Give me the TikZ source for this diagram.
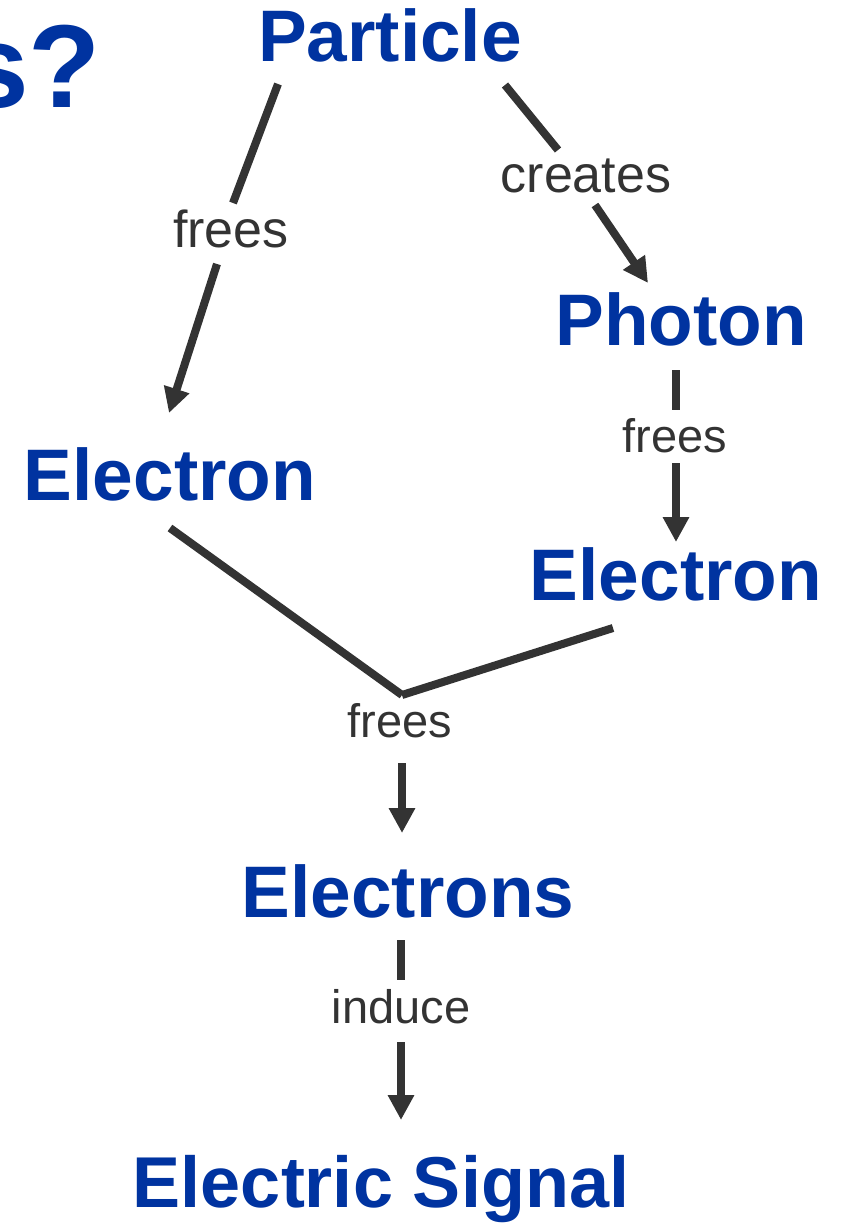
\documentclass[tikz,border=0pt]{standalone}
\usepackage{fontspec}
\setmainfont{Liberation Sans}
\usetikzlibrary{arrows.meta,calc}
\definecolor{termblue}{HTML}{0033A0}
\definecolor{linkgray}{HTML}{333333}
\begin{document}
\begin{tikzpicture}[x=1pt,y=-1pt,
  term/.style={anchor=base,inner sep=0pt,text=termblue,font=\fontsize{73}{80}\selectfont\bfseries},
  verb/.style={anchor=base,inner sep=0pt,text=linkgray,font=\fontsize{47}{54}\selectfont},
  bigverb/.style={verb,font=\fontsize{52}{60}\selectfont},
  link/.style={draw=linkgray,line width=8pt},
  arrowlink/.style={link,-{Triangle[length=25pt,width=25pt]}}]
\useasboundingbox (0,0) rectangle (846,1225);

% heading fragment running in from the left edge
\node[anchor=base east,inner sep=0pt,text=termblue,font=\fontsize{118}{130}\selectfont\bfseries] (title) at (101,108) {s?};

% terms
\node[term] (particle)  at (390,62)   {Particle};
\node[term] (photon)    at (681,345)  {Photon};
\node[term] (electronL) at (170,500)  {Electron};
\node[term] (electronR) at (676,600)  {Electron};
\node[term] (electrons) at (408,917)  {Electrons};
\node[term,font=\fontsize{72}{80}\selectfont\bfseries] (signal) at (381,1207) {Electric Signal};

% relation labels
\node[bigverb] (freesL)  at (231,247)  {frees};
\node[bigverb] (creates) at (586,193)  {creates};
\node[verb]    (freesR)  at (675,452)  {frees};
\node[verb]    (freesM)  at (400,737)  {frees};
\node[verb]    (induce)  at (401,1023) {induce};

\coordinate (join) at (402,695);

% particle frees electron
\draw[link] ($(particle.base)+(-112,22)$) -- ($(freesL.base)+(2,-44)$);
\draw[arrowlink] ($(freesL.base)+(-14,17)$) -- ($(electronL.base)+(-1,-87)$);

% particle creates photon
\draw[link] ($(particle.base)+(115,23)$) -- ($(creates.base)+(-28,-43)$);
\draw[arrowlink] ($(creates.base)+(9,12)$) -- ($(photon.base)+(-33,-62)$);

% photon frees electron
\draw[link] ($(photon.base)+(-5,25)$) -- ($(freesR.base)+(1,-42)$);
\draw[arrowlink] ($(freesR.base)+(1,11)$) -- ($(electronR.base)+(0,-58)$);

% both electrons free more electrons
\draw[link] ($(electronL.base)+(0,28)$) -- (join);
\draw[link] ($(electronR.base)+(-63,28)$) -- (join);
\draw[arrowlink] ($(freesM.base)+(2,26)$) -- ($(electrons.base)+(-6,-84)$);

% electrons induce the signal
\draw[link] ($(electrons.base)+(-7,23)$) -- ($(induce.base)+(0,-43)$);
\draw[arrowlink] ($(induce.base)+(0,19)$) -- ($(signal.base)+(20,-87)$);
\end{tikzpicture}
\end{document}
